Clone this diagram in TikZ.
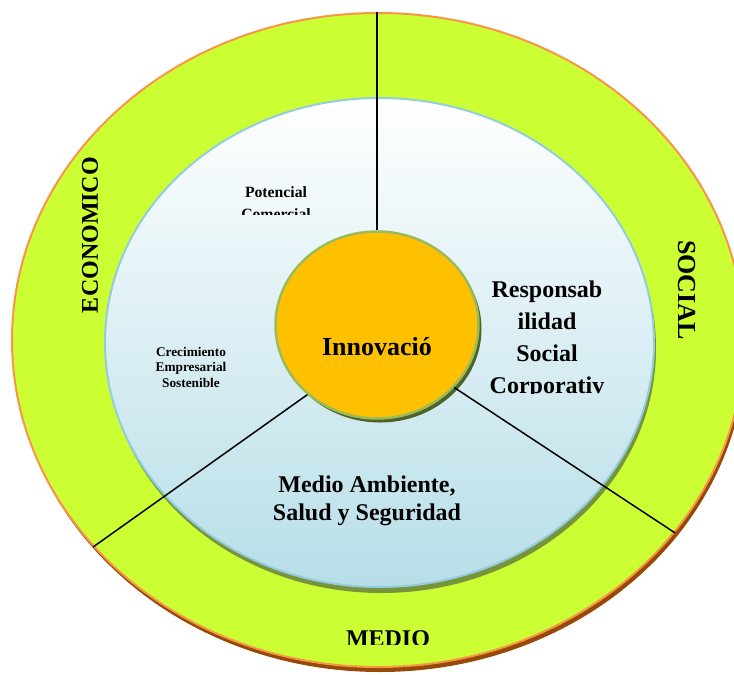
\documentclass[tikz,border=0pt]{standalone}
\usepackage{fontspec}
\setmainfont{Liberation Serif}
\usetikzlibrary{shapes.geometric,shadows}
\definecolor{ringgreen}{RGB}{204,255,51}
\definecolor{ringorange}{RGB}{247,150,70}
\definecolor{ringbrown}{RGB}{152,72,7}
\definecolor{innerblue}{RGB}{183,222,232}
\definecolor{innerborder}{RGB}{147,205,221}
\definecolor{innershadow}{RGB}{119,147,60}
\definecolor{coreamber}{RGB}{255,192,0}
\definecolor{coreborder}{RGB}{155,187,89}
\definecolor{coreshadow}{RGB}{79,98,40}
\begin{document}
\begin{tikzpicture}[x=1pt,y=-1pt,
  ringshape/.style={ellipse, draw=ringorange, line width=2pt, fill=ringgreen, inner sep=0pt,
    drop shadow={shadow xshift=2pt, shadow yshift=-5pt, fill=ringbrown, opacity=1}},
  innershape/.style={ellipse, draw=innerborder, line width=2pt, top color=white, bottom color=innerblue,
    inner sep=0pt, drop shadow={shadow xshift=2pt, shadow yshift=-6pt, fill=innershadow, opacity=1}},
  coreshape/.style={ellipse, draw=coreborder, line width=2.5pt, fill=coreamber, inner sep=0pt,
    drop shadow={shadow xshift=3pt, shadow yshift=-4pt, fill=coreshadow, opacity=1}},
  spoke/.style={draw=black, line width=1.5pt},
  ringlabel/.style={font=\bfseries\fontsize{24}{28}\selectfont, inner sep=0pt},
  biglabel/.style={font=\bfseries\fontsize{24}{28}\selectfont, inner sep=0pt, align=center, anchor=base},
  smalllabel/.style={font=\bfseries\fontsize{15.7}{22}\selectfont, inner sep=0pt, align=center, anchor=base},
  tinylabel/.style={font=\bfseries\fontsize{13.3}{15.5}\selectfont, inner sep=0pt, align=center, anchor=base}
]
\fill[white] (0,0) rectangle (734,675);
\useasboundingbox (0,0) rectangle (734,675);
\clip (0,0) rectangle (734,675);

\node[ringshape, minimum width=732pt, minimum height=654pt] (outer) at (378,340) {};
\node[innershape, minimum width=549pt, minimum height=489pt] (inner) at (379.5,342.5) {};

\node[ringlabel, rotate=90] (economico) at (90,235) {ECONOMICO};
\node[ringlabel, rotate=-90, font=\bfseries\fontsize{26}{30}\selectfont] (social) at (687,290) {SOCIAL};
\begin{scope}
  \clip (300,600) rectangle (480,644);
  \node[ringlabel, anchor=base] (medio) at (388,646) {MEDIO};
\end{scope}

\begin{scope}
  \clip (200,170) rectangle (360,214);
  \node[smalllabel] (potencial) at (276,219) {Potencial\\Comercial};
\end{scope}
\node[tinylabel] (crecimiento) at (191,387) {Crecimiento\\Empresarial\\Sostenible};
\begin{scope}
  \clip (470,260) rectangle (630,393);
  \node[biglabel, font=\bfseries\fontsize{24}{32}\selectfont] (rsc) at (547,393) {Responsab\\ilidad\\Social\\Corporativ};
\end{scope}
\node[biglabel] (medioamb) at (367,520) {Medio Ambiente,\\Salud y Seguridad};

\node[coreshape, minimum width=203pt, minimum height=187pt] (inno) at (377,325) {};
\node[font=\bfseries\fontsize{26}{30}\selectfont, inner sep=0pt, anchor=base] (innotext) at (377,355) {Innovació};

\draw[spoke] (inno.north) -- (inno.north |- outer.north);
\draw[spoke] (inno.-135.4) -- (outer.-144.4);
\draw[spoke] (inno.-39) -- (outer.-33.8);
\end{tikzpicture}
\end{document}
